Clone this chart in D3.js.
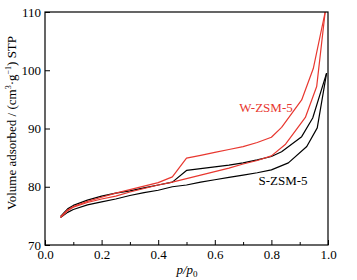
<!DOCTYPE html>
<html><head><meta charset="utf-8">
<script src="https://cdn.jsdelivr.net/npm/d3@7"></script>
<style>body{margin:0;background:#fff}svg{display:block}text{font-family:"Liberation Serif","Times New Roman",serif;}</style>
</head><body>
<svg id="c" width="357" height="280"></svg>
<script>
// Data
const wAdsP = [0.055,0.08,0.1,0.15,0.2,0.25,0.3,0.35,0.4,0.45,0.5,0.55,0.6,0.65,0.7,0.75,0.8,0.85,0.92,0.96,0.99];
const wAdsV = [74.7,75.9,76.5,77.3,77.9,78.4,79.1,79.7,80.3,80.8,81.4,82.0,82.6,83.2,83.9,84.5,85.3,87.3,91.9,97.2,110];
const wDesP = [0.99,0.948,0.907,0.836,0.8,0.75,0.7,0.65,0.6,0.55,0.5,0.45,0.4,0.35,0.3,0.25,0.2,0.15,0.1,0.08,0.055];
const wDesV = [110,100.3,94.9,90.2,88.5,87.6,86.9,86.4,85.9,85.4,84.9,81.7,80.7,80.1,79.5,78.9,78.2,77.5,76.6,76.0,74.8];
const sAdsP = [0.055,0.08,0.1,0.15,0.2,0.25,0.3,0.35,0.4,0.45,0.5,0.55,0.6,0.65,0.7,0.75,0.8,0.86,0.925,0.962,0.995];
const sAdsV = [74.7,75.6,76.1,76.9,77.4,77.9,78.5,79.0,79.4,80.0,80.3,80.8,81.2,81.6,82.0,82.4,82.9,84.1,86.9,90.1,99.5];
const sDesP = [0.995,0.946,0.907,0.836,0.8,0.75,0.7,0.65,0.6,0.55,0.5,0.45,0.4,0.35,0.3,0.25,0.2,0.15,0.1,0.08,0.055];
const sDesV = [99.5,91.8,88.6,86.0,85.2,84.6,84.1,83.7,83.4,83.1,82.8,80.8,80.3,79.8,79.3,78.9,78.4,77.7,76.8,76.2,74.9];
const xTicks = [0,0.2,0.4,0.6,0.8,1.0];
const xMinor = [0.1,0.3,0.5,0.7,0.9];
const yTicks = [70,80,90,100,110];
const seriesNames = ["W-ZSM-5","S-ZSM-5"];

const svg = d3.select("#c");
const L=45, R=328, T=12, B=245;
const x = d3.scaleLinear().domain([0,1]).range([L,R]);
const y = d3.scaleLinear().domain([70,110]).range([B,T]);

const red = "#e8372f", black = "#000";
const line = d3.line().x(d=>x(d[0])).y(d=>y(d[1]));
const series = [
  {p:sAdsP,v:sAdsV,c:black},
  {p:sDesP,v:sDesV,c:black},
  {p:wAdsP,v:wAdsV,c:red},
  {p:wDesP,v:wDesV,c:red}
];
series.forEach(s=>{
  svg.append("path").attr("d",line(d3.zip(s.p,s.v))).attr("fill","none")
    .attr("stroke",s.c).attr("stroke-width",1.2).attr("stroke-linejoin","round");
});

// frame
svg.append("rect").attr("x",L).attr("y",T).attr("width",R-L).attr("height",B-T)
  .attr("fill","none").attr("stroke","#000").attr("stroke-width",1.2);

// x axis
const xa = svg.append("g").attr("transform",`translate(0,${B})`)
  .call(d3.axisBottom(x).tickValues(xTicks).tickFormat(d3.format(".1f")).tickSizeInner(-5).tickSizeOuter(0).tickPadding(5));
svg.append("g").attr("transform",`translate(0,${B})`)
  .call(d3.axisBottom(x).tickValues(xMinor).tickFormat("").tickSizeInner(-3).tickSizeOuter(0))
  .select(".domain").remove();
// y axis
const ya = svg.append("g").attr("transform",`translate(${L},0)`)
  .call(d3.axisLeft(y).tickValues(yTicks).tickSizeInner(-5).tickSizeOuter(0).tickPadding(4));
svg.selectAll(".domain").remove();
svg.selectAll(".tick line").attr("stroke","#000").attr("stroke-width",1);
svg.selectAll(".tick text").attr("font-family","Liberation Serif, Times New Roman, serif").attr("font-size",13).attr("fill","#000");

// labels
svg.append("text").attr("x",266).attr("y",112).attr("text-anchor","middle").attr("font-size",13).attr("fill",red).text(seriesNames[0]);
svg.append("text").attr("x",283).attr("y",185).attr("text-anchor","middle").attr("font-size",13).attr("fill","#000").text(seriesNames[1]);

const xl = svg.append("text").attr("x",187).attr("y",274).attr("text-anchor","middle").attr("font-size",13);
xl.append("tspan").attr("font-style","italic").text("p/p");
xl.append("tspan").attr("font-size",9).attr("dy",3).text("0");

const yl = svg.append("text").attr("transform","translate(16,123) rotate(-90)").attr("text-anchor","middle").attr("font-size",13);
yl.append("tspan").text("Volume adsorbed / (cm");
yl.append("tspan").attr("font-size",8).attr("dy",-5).text("3");
yl.append("tspan").attr("dy",5).text("·g");
yl.append("tspan").attr("font-size",8).attr("dy",-5).text("−1");
yl.append("tspan").attr("dy",5).text(") STP");
</script>
</body></html>
